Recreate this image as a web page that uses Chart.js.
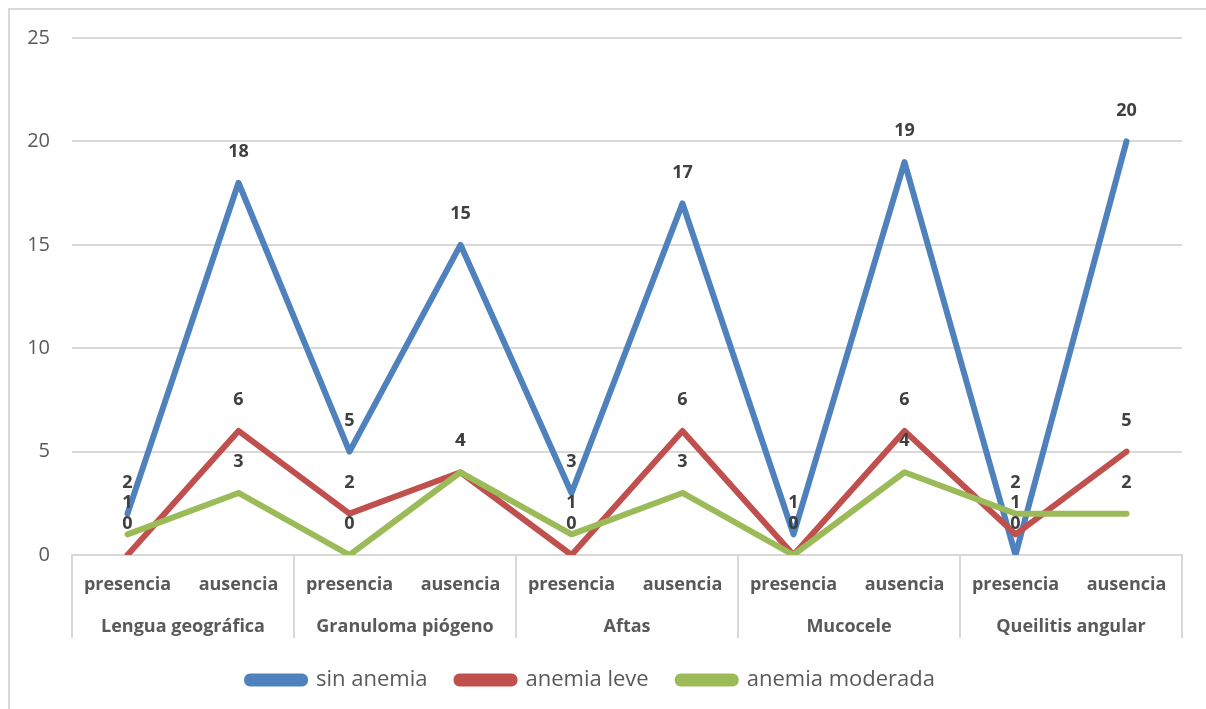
<!DOCTYPE html>
<html>
<head>
<meta charset="utf-8">
<script src="https://cdn.jsdelivr.net/npm/chart.js@4/dist/chart.umd.min.js"></script>
<style>
  html, body { margin: 0; padding: 0; background: #fff; }
  #wrap { position: absolute; left: 0; top: 0; width: 1206px; height: 709px; }
  #frame { position: absolute; left: 8px; top: 8px; width: 1210px; height: 720px; border: 2px solid #d9d9d9; pointer-events: none; }
</style>
</head>
<body>
<div id="wrap">
  <canvas id="chart" width="1206" height="709"></canvas>
</div>
<div id="frame"></div>
<script>
const groups = ["Lengua geográfica", "Granuloma piógeno", "Aftas", "Mucocele", "Queilitis angular"];
const subLabels = ["presencia", "ausencia", "presencia", "ausencia", "presencia", "ausencia", "presencia", "ausencia", "presencia", "ausencia"];
const sinAnemia = [2, 18, 5, 15, 3, 17, 1, 19, 0, 20];
const anemiaLeve = [0, 6, 2, 4, 0, 6, 0, 6, 1, 5];
const anemiaModerada = [1, 3, 0, 4, 1, 3, 0, 4, 2, 2];
const yTicks = [0, 5, 10, 15, 20, 25];

const FONT = "'Open Sans', sans-serif";
const GRID = "#d9d9d9";
const TEXT = "#595959";

// value labels above each point
const valueLabels = {
  id: "valueLabels",
  afterDatasetsDraw(chart) {
    const ctx = chart.ctx;
    ctx.save();
    ctx.font = "bold 18px " + FONT;
    ctx.fillStyle = "#404040";
    ctx.textAlign = "center";
    ctx.textBaseline = "middle";
    chart.data.datasets.forEach((ds, i) => {
      const meta = chart.getDatasetMeta(i);
      meta.data.forEach((pt, j) => {
        ctx.fillText(String(ds.data[j]), pt.x, pt.y - 31);
      });
    });
    ctx.restore();
  }
};

function lineSet(label, data, color, order) {
  return {
    label,
    data,
    borderColor: color,
    backgroundColor: color,
    borderWidth: 6,
    pointRadius: 0,
    tension: 0,
    borderJoinStyle: "round",
    borderCapStyle: "round",
    order
  };
}

new Chart(document.getElementById("chart"), {
  type: "line",
  data: {
    labels: subLabels,
    datasets: [
      lineSet("sin anemia", sinAnemia, "#4f81bd", 3),
      lineSet("anemia leve", anemiaLeve, "#c0504d", 2),
      lineSet("anemia moderada", anemiaModerada, "#9bbb59", 1)
    ]
  },
  options: {
    responsive: false,
    animation: false,
    layout: { padding: { left: 0, top: 38, right: 24, bottom: 8 } },
    plugins: {
      tooltip: { enabled: false },
      legend: {
        position: "bottom",
        labels: {
          color: TEXT,
          font: { family: FONT, size: 22 },
          boxWidth: 58,
          boxHeight: 7,
          useBorderRadius: true,
          borderRadius: 3,
          padding: 29,
          sort: (a, b) => a.datasetIndex - b.datasetIndex
        }
      }
    },
    scales: {
      x: {
        type: "category",
        offset: true,
        grid: {
          offset: true,
          drawOnChartArea: false,
          tickLength: 45,
          lineWidth: 2,
          // only group boundaries get a separator
          color: (c) => (c.index === undefined || c.index % 2 === 0 ? GRID : "rgba(0,0,0,0)")
        },
        border: { color: GRID, width: 2 },
        ticks: {
          color: TEXT,
          font: { family: FONT, size: 18, weight: "bold" },
          padding: -26,
          autoSkip: false,
          maxRotation: 0
        },
        afterFit: (s) => { s.height = 45; }
      },
      x2: {
        type: "category",
        position: "bottom",
        labels: groups,
        offset: true,
        grid: {
          offset: true,
          drawOnChartArea: false,
          tickLength: 38,
          lineWidth: 2,
          color: GRID
        },
        border: { display: false },
        ticks: {
          color: TEXT,
          font: { family: FONT, size: 18, weight: "bold" },
          padding: -22,
          autoSkip: false,
          maxRotation: 0
        },
        afterFit: (s) => { s.height = 40; }
      },
      y: {
        min: 0,
        max: 25,
        afterBuildTicks: (s) => { s.ticks = yTicks.map((v) => ({ value: v })); },
        grid: { color: GRID, lineWidth: 2, drawTicks: false },
        border: { display: false },
        ticks: {
          color: TEXT,
          font: { family: FONT, size: 20 },
          padding: 22
        },
        afterFit: (s) => { s.width = 72; }
      }
    }
  },
  plugins: [valueLabels]
});
</script>
</body>
</html>
